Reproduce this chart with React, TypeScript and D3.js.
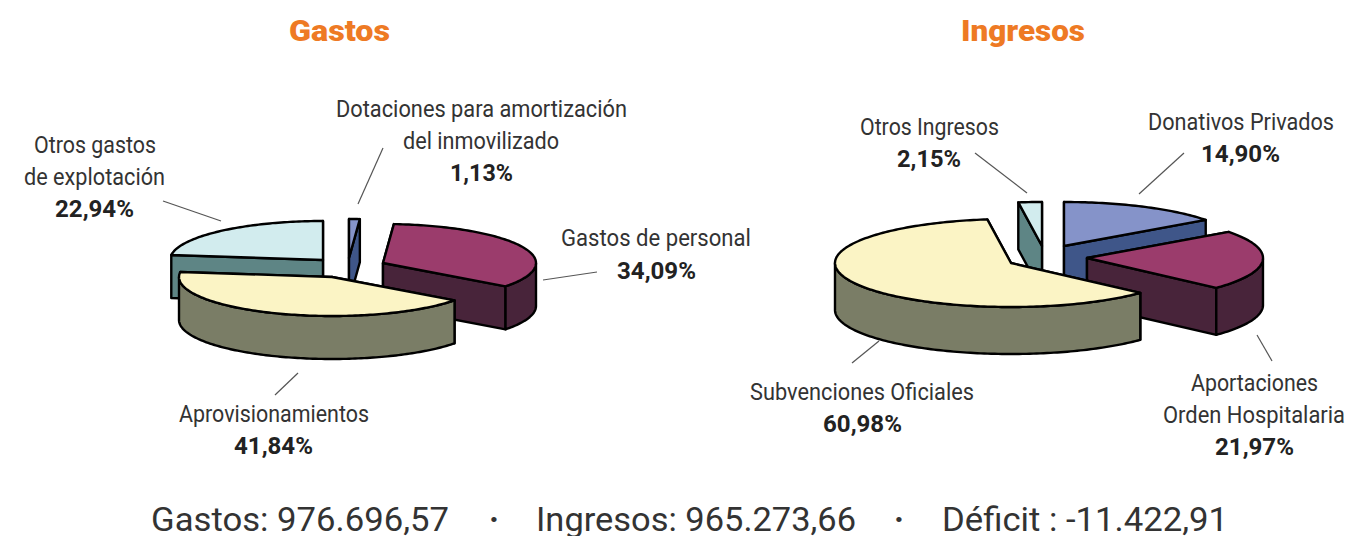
import React from "react";
import * as d3 from "d3";

// ---- data ----
const gastosCategories = ["Dotaciones", "Gastos de personal", "Aprovisionamientos", "Otros gastos de explotación"];
const gastosValues = [1.13, 34.09, 41.84, 22.94];
const ingresosCategories = ["Donativos Privados", "Aportaciones Orden Hospitalaria", "Subvenciones Oficiales", "Otros Ingresos"];
const ingresosValues = [14.9, 21.97, 60.98, 2.15];
const summaryLabels = ["Gastos: 976.696,57", "Ingresos: 965.273,66", "Déficit : -11.422,91"];

// ---- styles & layout ----
const topColors = ["#8593C9", "#9B3C6C", "#FBF4C5", "#D2ECEE"];
const wallColors = ["#3F5689", "#48243A", "#7A7D66", "#5E8585"];

type Apex = [number, number];
const gastosLayout = {
  rx: 153, ry: 39, depth: 43,
  apex: [[349, 258], [383, 263], [332, 277], [323, 260]] as Apex[],
  order: [3, 0, 1, 2],
};
const ingresosLayout = {
  rx: 176, ry: 44, depth: 47,
  apex: [[1064, 246], [1087, 258], [1011, 263], [1042, 246]] as Apex[],
  order: [3, 0, 1, 2],
};

const leaders: [number, number, number, number][] = [
  [383, 148, 358, 204],
  [163, 201, 221, 221],
  [543, 280, 597, 272],
  [298, 373, 275, 395],
  [975, 153, 1027, 193],
  [1139, 194, 1184, 153],
  [879, 341, 852, 363],
  [1257, 335, 1272, 361],
];

// text, x-left, x-right, baseline, bold
const labels: [string, number, number, number, boolean][] = [
  ["Dotaciones para amortización", 336, 627, 117, false],
  ["del inmovilizado", 403, 559, 149, false],
  ["1,13%", 450, 513, 181, true],
  ["Otros gastos", 34, 156, 153, false],
  ["de explotación", 24, 165, 185, false],
  ["22,94%", 55, 134, 217, true],
  ["Gastos de personal", 561, 751, 246, false],
  ["34,09%", 617, 696, 279, true],
  ["Aprovisionamientos", 179, 369, 422, false],
  ["41,84%", 234, 313, 454, true],
  ["Otros Ingresos", 860, 999, 135, false],
  ["2,15%", 897, 961, 167, true],
  ["Donativos Privados", 1148, 1334, 130, false],
  ["14,90%", 1201, 1280, 162, true],
  ["Subvenciones Oficiales", 750, 974, 400, false],
  ["60,98%", 823, 902, 432, true],
  ["Aportaciones", 1191, 1318, 391, false],
  ["Orden Hospitalaria", 1163, 1345, 423, false],
  ["21,97%", 1215, 1294, 455, true],
];

const FONT = "Roboto, 'Noto Sans', sans-serif";
const line = d3.line<[number, number]>().x((d) => d[0]).y((d) => d[1]);

function Pie3D({ values, layout, tops, walls }: { values: number[]; layout: typeof gastosLayout; tops: string[]; walls: string[] }) {
  const arcs = d3.pie<number>().sort(null).startAngle(0).endAngle(2 * Math.PI)(values);
  const { rx, ry, depth } = layout;
  return (
    <g stroke="#000" strokeWidth={2.4} strokeLinejoin="round">
      {layout.order.map((i) => {
        const a = arcs[i];
        const [cx, cy] = layout.apex[i];
        const pt = (t: number, dy = 0): [number, number] => [cx + rx * Math.sin(t), cy - ry * Math.cos(t) + dy];
        const steps = Math.max(4, Math.ceil((a.endAngle - a.startAngle) / 0.02));
        const ts = d3.range(steps + 1).map((k) => a.startAngle + ((a.endAngle - a.startAngle) * k) / steps);
        const topPath = line([[cx, cy], ...ts.map((t) => pt(t))]) + "Z";
        const wall = (t: number) => line([[cx, cy], pt(t), pt(t, depth), [cx, cy + depth]]) + "Z";
        const wallAngles = [a.startAngle, a.endAngle].sort((p, q) => pt(p)[1] - pt(q)[1]);
        const front = ts.filter((t) => t >= Math.PI / 2 && t <= (3 * Math.PI) / 2);
        const rim =
          front.length > 1
            ? line([...front.map((t) => pt(t)), ...front.slice().reverse().map((t) => pt(t, depth))]) + "Z"
            : null;
        return (
          <g key={i}>
            {wallAngles.map((t, k) => (
              <path key={k} d={wall(t)} fill={walls[i]} />
            ))}
            {rim && <path d={rim} fill={walls[i]} />}
            <path d={topPath} fill={tops[i]} />
          </g>
        );
      })}
    </g>
  );
}

export default function App() {
  return (
    <svg width={1355} height={536} style={{ position: "absolute", left: 0, top: 0, display: "block", background: "#fff" }} fontFamily={FONT}>
      <text x={339.5} y={41} textAnchor="middle" fontSize={30} fontWeight={900} fill="#EE7A24" textLength={101} lengthAdjust="spacingAndGlyphs">Gastos</text>
      <text x={1023} y={41} textAnchor="middle" fontSize={30} fontWeight={900} fill="#EE7A24" textLength={124} lengthAdjust="spacingAndGlyphs">Ingresos</text>

      <Pie3D values={gastosValues} layout={gastosLayout} tops={topColors} walls={wallColors} />
      <Pie3D values={ingresosValues} layout={ingresosLayout} tops={topColors} walls={wallColors} />

      <g stroke="#555" strokeWidth={1.2}>
        {leaders.map((l, i) => (
          <line key={i} x1={l[0]} y1={l[1]} x2={l[2]} y2={l[3]} />
        ))}
      </g>

      <g fontSize={23} fill="#2a2a2a">
        {labels.map(([t, x0, x1, y, b], i) => (
          <text key={i} x={x0} y={y} fontWeight={b ? 700 : 400} textLength={x1 - x0} lengthAdjust="spacingAndGlyphs" fill={b ? "#222" : "#333"}>{t}</text>
        ))}
      </g>

      <g fontSize={33} fill="#333" fontWeight={400}>
        <text x={151} y={531} textLength={298} lengthAdjust="spacingAndGlyphs">{summaryLabels[0]}</text>
        <text x={494} y={531} textAnchor="middle" fontWeight={700}>·</text>
        <text x={536} y={531} textLength={320} lengthAdjust="spacingAndGlyphs">{summaryLabels[1]}</text>
        <text x={899} y={531} textAnchor="middle" fontWeight={700}>·</text>
        <text x={942} y={531} textLength={286} lengthAdjust="spacingAndGlyphs">{summaryLabels[2]}</text>
      </g>
    </svg>
  );
}
